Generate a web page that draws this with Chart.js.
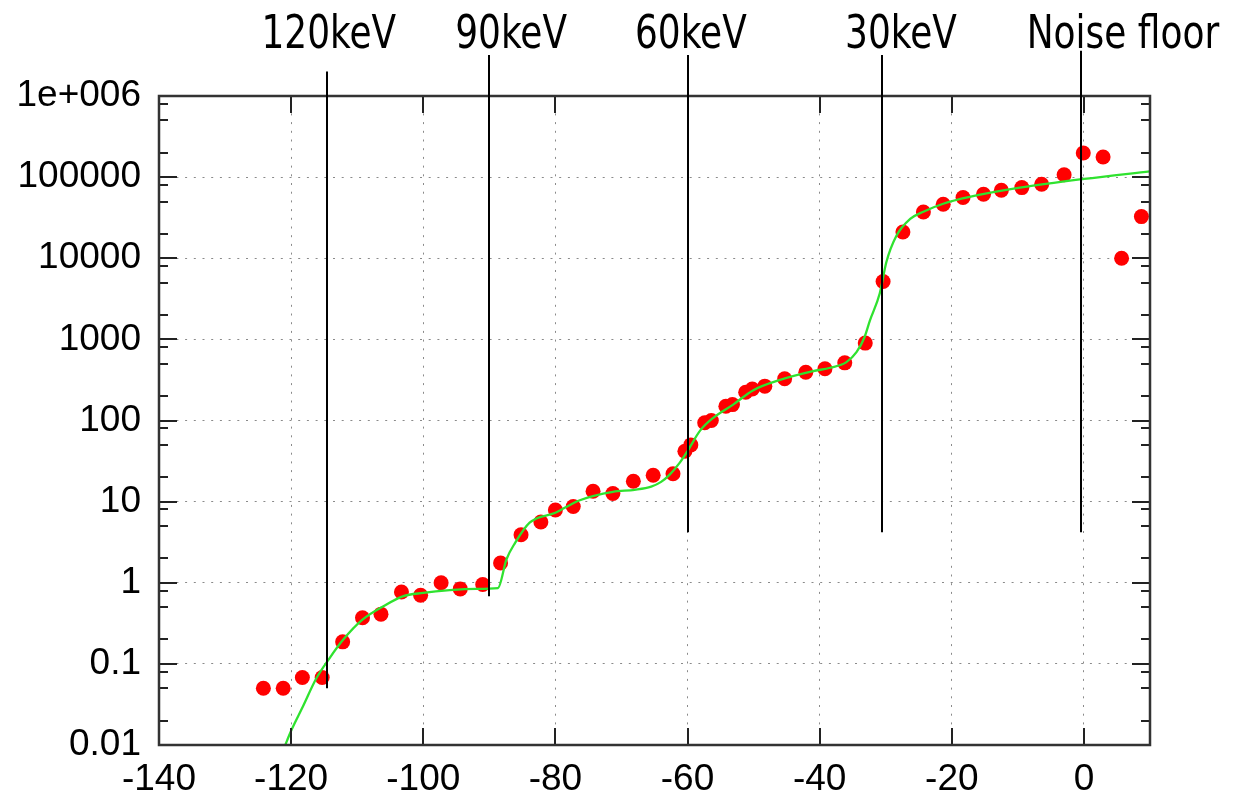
<!DOCTYPE html>
<html>
<head>
<meta charset="utf-8">
<script src="https://cdn.jsdelivr.net/npm/chart.js@4/dist/chart.umd.min.js"></script>
<style>
  html, body { margin: 0; padding: 0; background: #fff; }
  #c { display: block; }
</style>
</head>
<body>
<canvas id="c" width="1233" height="804"></canvas>
<script>
// Axis ticks
const xTicks = [-140, -120, -100, -80, -60, -40, -20, 0];
const yTicks = [0.01, 0.1, 1, 10, 100, 1000, 10000, 100000, 1000000];
const yTickLabels = ['0.01', '0.1', '1', '10', '100', '1000', '10000', '100000', '1e+006'];
const yMinorFactors = [2, 5, 8];

// Measured counts (red points)
const dotX = [-124.2, -121.2, -118.3, -115.3, -112.2, -109.2, -106.4, -103.3, -100.4, -97.3,
  -94.4, -91.0, -88.3, -85.2, -82.2, -80.0, -77.3, -74.3, -71.3, -68.2,
  -65.2, -62.2, -60.4, -59.5, -57.4, -56.4, -54.2, -53.2, -51.2, -50.2,
  -48.3, -45.3, -42.1, -39.2, -36.2, -33.1, -30.4, -27.4, -24.3, -21.3,
  -18.3, -15.2, -12.5, -9.4, -6.4, -3.0, -0.1, 2.9, 5.7, 8.7];
const dotY = [0.05, 0.05, 0.068, 0.068, 0.187, 0.37, 0.41, 0.77, 0.70, 1.0,
  0.84, 0.95, 1.75, 3.9, 5.6, 7.9, 8.7, 13.4, 12.6, 17.8,
  21.1, 22.1, 41.7, 50, 94, 100, 150, 157, 223, 245,
  265, 327, 394, 434, 514, 900, 5160, 21100, 37200, 46300,
  56000, 61500, 68900, 74300, 81600, 107000, 198000, 177000, 10000, 32600];

// Fitted curve (green line)
const fitX = [-122, -121, -120, -118.2, -116.2, -114.2, -112.2, -109.2, -106.1, -103.1,
  -100, -96, -92, -88.7, -87.4, -86.1, -83.9, -80, -76.3, -71.3,
  -68, -65.5, -64, -62.7, -61.2, -60, -58.1, -56.1, -53.1, -50.1,
  -46, -41, -38.4, -36, -34.4, -33.2, -32.4, -30.9, -29.9, -28.4,
  -26.3, -24.3, -21.3, -17.3, -9.7, 0, 10];
const fitY = [0.006, 0.0095, 0.015, 0.03, 0.066, 0.117, 0.195, 0.35, 0.51, 0.68,
  0.75, 0.81, 0.84, 0.86, 1.95, 3.1, 5.5, 7.3, 10.4, 13.2,
  14.0, 15.3, 17.5, 21.5, 30, 42, 75, 108, 157, 235,
  316, 405, 447, 520, 700, 1070, 1700, 3700, 9000, 18800,
  30500, 37500, 47000, 57000, 74000, 95000, 118000];

// Energy markers
const markerText = ['120keV', '90keV', '60keV', '30keV', 'Noise floor'];
const markerX = [-114.5, -90, -60, -30.5, -0.5];
const markerLow = [0.05, 0.68, 4.2, 4.2, 4.2];
const markerHigh = [2.0e6, 3.2e6, 3.2e6, 3.2e6, 3.6e6];
const markerTextX = [-114.3, -86.7, -59.5, -27.7, 5.9];

const tickFont = { family: "'Liberation Sans', Arial, sans-serif", size: 37 };

const framePlugin = {
  id: 'frame',
  afterDatasetsDraw(chart) {
    const { ctx, chartArea: a, scales: { x, y } } = chart;
    ctx.save();
    // inward ticks on all four sides
    ctx.strokeStyle = '#222';
    ctx.lineWidth = 2;
    ctx.beginPath();
    xTicks.forEach(v => {
      const px = Math.round(x.getPixelForValue(v));
      ctx.moveTo(px, a.bottom); ctx.lineTo(px, a.bottom - 17);
      ctx.moveTo(px, a.top); ctx.lineTo(px, a.top + 17);
    });
    yTicks.forEach(v => {
      const py = Math.round(y.getPixelForValue(v));
      ctx.moveTo(a.left, py); ctx.lineTo(a.left + 18, py);
      ctx.moveTo(a.right, py); ctx.lineTo(a.right - 18, py);
      if (v < 1000000) {
        yMinorFactors.forEach(f => {
          const pm = Math.round(y.getPixelForValue(v * f));
          ctx.moveTo(a.left, pm); ctx.lineTo(a.left + 9, pm);
          ctx.moveTo(a.right, pm); ctx.lineTo(a.right - 9, pm);
        });
      }
    });
    ctx.stroke();
    // frame
    ctx.strokeStyle = '#333';
    ctx.lineWidth = 2.5;
    ctx.strokeRect(a.left, a.top, a.right - a.left, a.bottom - a.top);

    // energy marker lines and captions
    ctx.strokeStyle = '#000';
    ctx.lineWidth = 2;
    ctx.beginPath();
    markerX.forEach((v, i) => {
      const px = Math.round(x.getPixelForValue(v));
      ctx.moveTo(px, y.getPixelForValue(markerHigh[i]));
      ctx.lineTo(px, y.getPixelForValue(markerLow[i]));
    });
    ctx.stroke();
    ctx.fillStyle = '#000';
    ctx.font = "47px 'DejaVu Sans Condensed', 'Liberation Sans Narrow', sans-serif";
    ctx.textAlign = 'center';
    ctx.textBaseline = 'alphabetic';
    markerText.forEach((t, i) => {
      const cx = x.getPixelForValue(markerTextX[i]);
      ctx.save();
      ctx.translate(cx, 48);
      ctx.scale(0.85, 1);
      ctx.fillText(t, 0, 0);
      ctx.restore();
    });
    ctx.restore();
  }
};

new Chart(document.getElementById('c'), {
  data: {
    datasets: [
      {
        type: 'line',
        data: fitX.map((v, i) => ({ x: v, y: fitY[i] })),
        borderColor: '#2fe22f',
        borderWidth: 2.3,
        pointRadius: 0,
        fill: false,
        cubicInterpolationMode: 'monotone',
        order: 0
      },
      {
        type: 'scatter',
        data: dotX.map((v, i) => ({ x: v, y: dotY[i] })),
        backgroundColor: '#ff0000',
        borderWidth: 0,
        pointRadius: 7.5,
        pointHoverRadius: 7.5,
        order: 1
      }
    ]
  },
  options: {
    responsive: false,
    animation: false,
    devicePixelRatio: 1,
    layout: { padding: { top: 96, right: 83, left: 0, bottom: 0 } },
    plugins: { legend: { display: false }, tooltip: { enabled: false } },
    scales: {
      x: {
        type: 'linear',
        position: 'bottom',
        min: -140,
        max: 10,
        afterBuildTicks: s => { s.ticks = xTicks.map(v => ({ value: v })); },
        afterFit: s => { s.height = 59; },
        grid: { color: '#8a8a8a', lineWidth: 1, drawTicks: false },
        border: { display: false, dash: [2, 6.7] },
        ticks: {
          font: tickFont, color: '#000', padding: 13,
          maxRotation: 0, autoSkip: false,
          callback: v => String(v)
        }
      },
      y: {
        type: 'logarithmic',
        position: 'left',
        min: 0.01,
        max: 1000000,
        afterBuildTicks: s => { s.ticks = yTicks.map(v => ({ value: v })); },
        afterFit: s => { s.width = 159; },
        grid: { color: '#8a8a8a', lineWidth: 1, drawTicks: false },
        border: { display: false, dash: [2, 6.7] },
        ticks: {
          font: tickFont, color: '#000', padding: 18, autoSkip: false,
          callback: (v) => { const i = yTicks.indexOf(v); return i >= 0 ? yTickLabels[i] : ''; }
        }
      }
    }
  },
  plugins: [framePlugin]
});
</script>
</body>
</html>
